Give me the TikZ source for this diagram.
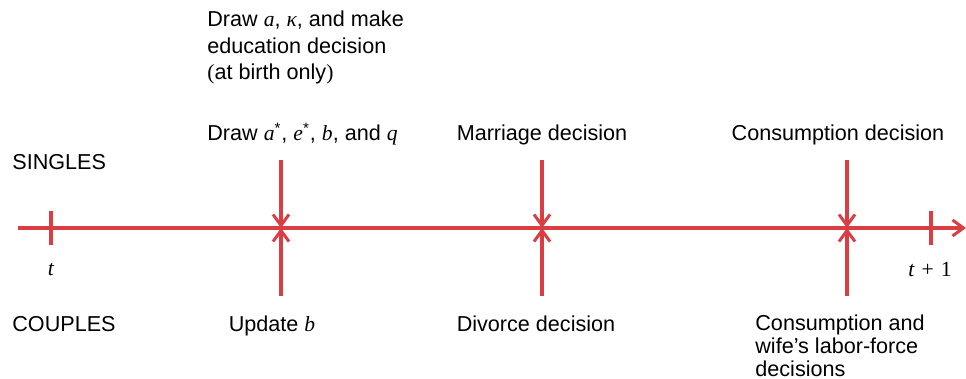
\documentclass[tikz,border=0pt]{standalone}
\usepackage{fontspec}
\setmainfont{Liberation Sans}
\newfontfamily\serf{Liberation Serif}
\usetikzlibrary{arrows.meta}
\definecolor{axisred}{RGB}{218,62,66}
\newcommand{\mv}[1]{{\serf\itshape #1}}
\begin{document}
\begin{tikzpicture}[x=0.5pt,y=-0.5pt,
  axisline/.style={draw=axisred,line width=1.6pt},
  tipline/.style={draw=axisred,line width=1.6pt,-{Straight Barb[length=5.5pt,width=8pt,line width=1.5pt]}},
  lbl/.style={inner sep=0pt,anchor=base,font=\fontsize{10.8pt}{13.5pt}\selectfont},
  lbll/.style={lbl,anchor=base west,align=left}
]
\useasboundingbox (0,0) rectangle (966,379);
% axis
\coordinate (a0) at (18,228);
\coordinate (a1) at (966,228);
\draw[tipline] (a0) -- (a1);
% ticks
\coordinate (t0a) at (51,211); \coordinate (t0b) at (51,245);
\coordinate (t1a) at (931,211); \coordinate (t1b) at (931,245);
\draw[axisline] (t0a) -- (t0b);
\draw[axisline] (t1a) -- (t1b);
% event arrows
\foreach \n/\x in {u/281,m/542,c/847}{
  \coordinate (\n top) at (\x,160);
  \coordinate (\n bot) at (\x,296);
  \coordinate (\n mid) at (\x,228);
  \draw[tipline] (\n top) -- (\n mid);
  \draw[tipline] (\n bot) -- (\n mid);
}
% labels
\node[lbll] (singles) at (12,170) {SINGLES};
\node[lbll] (couples) at (12,332) {COUPLES};
\node[lbll,font=\fontsize{10.8pt}{13.25pt}\selectfont] (draw1) at (207,80) {Draw \mv{a}, \mv{κ}, and make\\education decision\\{\serf(}at birth only{\serf)}};
\node[lbll] (draw2) at (207,141) {Draw \mv{a}\textsuperscript{*}, \mv{e}\textsuperscript{*}, \mv{b}, and \mv{q}};
\node[lbl] (marr) at (542,141) {Marriage decision};
\node[lbl] (cons) at (838,141) {Consumption decision};
\node[lbl] (tl) at (51,276) {\mv{t}};
\node[lbl] (t1l) at (930,277) {\mv{t}\,\,{\serf +}\,\,{\serf 1}};
\node[lbl] (upd) at (272,332) {Update \mv{b}};
\node[lbl] (div) at (536,332) {Divorce decision};
\node[lbll,font=\fontsize{10.8pt}{11.5pt}\selectfont] (cons2) at (755,377) {Consumption and\\wife’s labor-force\\decisions};
\end{tikzpicture}
\end{document}
